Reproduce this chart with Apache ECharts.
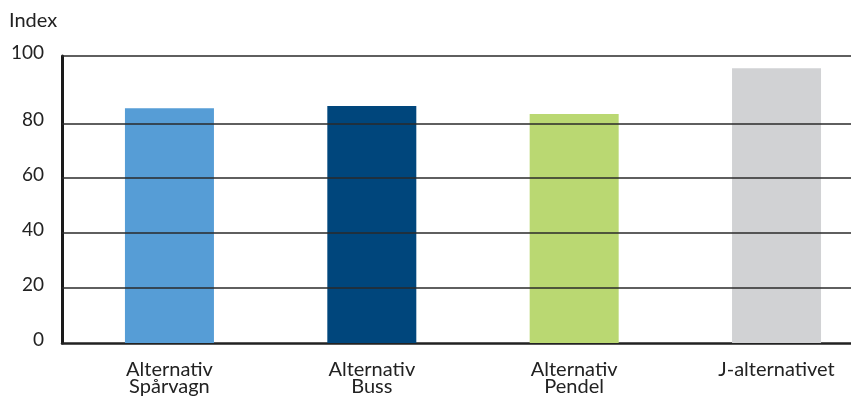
<!DOCTYPE html>
<html>
<head>
<meta charset="utf-8">
<script src="https://cdn.jsdelivr.net/npm/echarts@6/dist/echarts.min.js"></script>
<style>html,body{margin:0;padding:0;background:#fff}#c{width:851px;height:399px}</style>
</head>
<body>
<div id="c"></div>
<script>
var categories = ['Alternativ\nSpårvagn', 'Alternativ\nBuss', 'Alternativ\nPendel', 'J-alternativet'];
var values = [85.5, 86.3, 83.4, 100];
var colors = ['#569DD6', '#00467C', '#BAD872', '#D1D2D4'];
var yTickValues = [0, 20, 40, 60, 80, 104.5];
var yTickLabels = ['0', '20', '40', '60', '80', '100'];
var gridValues = [20, 40, 60, 80, 104.5];
var xPositions = [0, 1, 2, 3];
var xMin = -0.531, xMax = 3.368;

var chart = echarts.init(document.getElementById('c'), null, {renderer: 'canvas'});
var textColor = '#222';
var font = 'Lato';
chart.setOption({
  animation: false,
  title: {text: 'Index', left: 4, top: 6, textStyle: {fontFamily: font, fontSize: 20, fontWeight: 'normal', color: textColor}},
  grid: {left: 62, right: 0, top: 56, bottom: 56, containLabel: false},
  xAxis: {
    type: 'value', min: xMin, max: xMax, position: 'bottom',
    splitLine: {show: false}, axisTick: {show: false},
    axisLine: {show: true, onZero: false, lineStyle: {color: '#222', width: 2.5}},
    axisLabel: {customValues: xPositions, margin: 18, fontFamily: font, fontSize: 20, lineHeight: 17, color: textColor,
      formatter: function (v) { var i = Math.round(v); return categories[i] || ''; }}
  },
  yAxis: {
    type: 'value', min: 0, max: 104.5, position: 'left',
    splitLine: {show: false}, axisTick: {show: false},
    axisLine: {show: true, onZero: false, lineStyle: {color: '#1a1a1a', width: 3}},
    axisLabel: {customValues: yTickValues, margin: 18, color: textColor, verticalAlign: 'middle',
      rich: {a: {fontFamily: font, fontSize: 19, color: textColor, padding: [0, 0, 7, 0]}},
      formatter: function (v) { var i = yTickValues.indexOf(v); return i >= 0 ? '{a|' + yTickLabels[i] + '}' : ''; }}
  },
  series: [{
    type: 'bar', barWidth: 89,
    data: values.map(function (v, i) { return {value: [xPositions[i], v], itemStyle: {color: colors[i]}}; }),
    markLine: {
      silent: true, symbol: 'none', label: {show: false},
      lineStyle: {color: '#2a2a2a', width: 1.5, type: 'solid'},
      data: gridValues.map(function (g) { return [{coord: [xMin, g]}, {coord: [xMax, g]}]; })
    },
    z: 1
  }]
});
</script>
</body>
</html>
